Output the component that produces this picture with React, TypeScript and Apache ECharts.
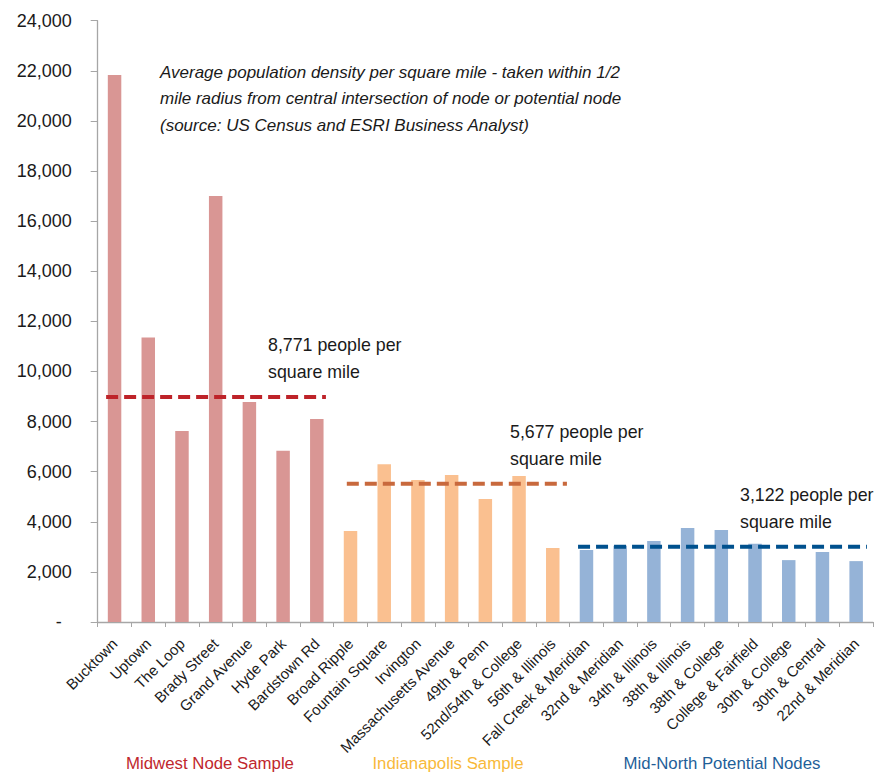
import React, { useEffect, useRef } from "react";
import * as echarts from "echarts";

const midwestNames = ["Bucktown", "Uptown", "The Loop", "Brady Street", "Grand Avenue", "Hyde Park", "Bardstown Rd"];
const midwestValues = [21830, 11360, 7620, 17000, 8780, 6840, 8100];
const indyNames = ["Broad Ripple", "Fountain Square", "Irvington", "Massachusetts Avenue", "49th & Penn", "52nd/54th & College", "56th & Illinois"];
const indyValues = [3630, 6300, 5670, 5870, 4910, 5830, 2950];
const midNorthNames = ["Fall Creek & Meridian", "32nd & Meridian", "34th & Illinois", "38th & Illinois", "38th & College", "College & Fairfield", "30th & College", "30th & Central", "22nd & Meridian"];
const midNorthValues = [2870, 3040, 3230, 3750, 3670, 3120, 2470, 2790, 2430];

const groupTitles = ["Midwest Node Sample", "Indianapolis Sample", "Mid-North Potential Nodes"];
const averageTexts = ["8,771 people per\nsquare mile", "5,677 people per\nsquare mile", "3,122 people per\nsquare mile"];
const averageLevels = [8980, 5520, 3000];
// start / end of each dashed line, in category units (0 = left edge of first category)
const averageSpans = [
  [0.25, 6.77],
  [7.39, 13.92],
  [14.25, 22.82],
];
const noteText =
  "Average population density per square mile - taken within 1/2\nmile radius from central intersection of node or potential node\n(source: US Census and ESRI Business Analyst)";

const yMin = 0;
const yMax = 24000;
const yStep = 2000;

const barColors = ["#D99694", "#FAC090", "#95B3D7"];
const lineColors = ["#BE2329", "#C8693D", "#00518E"];
const titleColors = ["#C0272D", "#F8B93A", "#1F5F99"];

const SANS = "'Liberation Sans', Arial, sans-serif";

export default function App() {
  const ref = useRef<HTMLDivElement>(null);

  useEffect(() => {
    if (!ref.current) return;
    const chart = echarts.init(ref.current, undefined, { renderer: "svg" });

    const groups = [
      { names: midwestNames, values: midwestValues },
      { names: indyNames, values: indyValues },
      { names: midNorthNames, values: midNorthValues },
    ];
    const categories: string[] = [];
    const barData: any[] = [];
    groups.forEach((g, gi) => {
      g.names.forEach((n, i) => {
        categories.push(n);
        barData.push({ value: g.values[i], itemStyle: { color: barColors[gi] } });
      });
    });

    const lineSeries = averageLevels.map((lvl, i) => ({
      type: "line",
      xAxisIndex: 1,
      yAxisIndex: 0,
      symbol: "none",
      silent: true,
      z: 5,
      lineStyle: { color: lineColors[i], width: 4, type: [12, 6] },
      data: [
        [averageSpans[i][0], lvl],
        [averageSpans[i][1], lvl],
      ],
    }));

    const annotationPos = [
      [268, 332],
      [510, 418.5],
      [740, 481.5],
    ];
    const groupTitleX = [210, 448, 722];

    const graphics: any[] = [
      {
        type: "text",
        x: 160,
        y: 59,
        style: {
          text: noteText,
          fontFamily: SANS,
          fontStyle: "italic",
          fontSize: 17,
          lineHeight: 26.5,
          fill: "#1a1a1a",
          textAlign: "left",
          textVerticalAlign: "top",
        },
      },
      ...averageTexts.map((t, i) => ({
        type: "text",
        x: annotationPos[i][0],
        y: annotationPos[i][1],
        style: {
          text: t,
          fontFamily: SANS,
          fontSize: 17.8,
          lineHeight: 26.7,
          fill: "#1a1a1a",
          textAlign: "left",
          textVerticalAlign: "top",
        },
      })),
      ...groupTitles.map((t, i) => ({
        type: "text",
        x: groupTitleX[i],
        y: 763,
        style: {
          text: t,
          fontFamily: SANS,
          fontSize: 16.8,
          fill: titleColors[i],
          textAlign: "center",
          textVerticalAlign: "middle",
        },
      })),
    ];

    chart.setOption({
      animation: false,
      backgroundColor: "#ffffff",
      grid: { left: 97.7, right: 1, top: 20.7, bottom: 153, containLabel: false },
      xAxis: [
        {
          type: "category",
          data: categories,
          boundaryGap: true,
          axisLine: { lineStyle: { color: "#A6A6A6", width: 1.3 } },
          axisTick: { show: true, length: 5, lineStyle: { color: "#A6A6A6" } },
          axisLabel: {
            interval: 0,
            rotate: 45,
            margin: 19,
            fontFamily: SANS,
            fontSize: 15,
            color: "#1a1a1a",
          },
        },
        {
          type: "value",
          min: 0,
          max: categories.length,
          show: false,
        },
      ],
      yAxis: {
        type: "value",
        min: yMin,
        max: yMax,
        interval: yStep,
        splitLine: { show: false },
        axisLine: { show: true, lineStyle: { color: "#A6A6A6", width: 1.3 } },
        axisTick: { show: true, length: 7, lineStyle: { color: "#A6A6A6" } },
        axisLabel: {
          margin: 26,
          fontFamily: SANS,
          fontSize: 18,
          color: "#1a1a1a",
          formatter: (v: number) => (v === 0 ? "{d|-}" : v.toLocaleString("en-US")),
          rich: { d: { padding: [0, 10, 0, 0], fontFamily: SANS, fontSize: 18, color: "#1a1a1a" } },
        },
      },
      series: [
        {
          type: "bar",
          xAxisIndex: 0,
          barWidth: "40%",
          data: barData,
          z: 2,
        },
        ...lineSeries,
      ],
      graphic: graphics,
    });

    return () => chart.dispose();
  }, []);

  return (
    <div
      ref={ref}
      style={{ position: "fixed", left: 0, top: 0, width: 874, height: 775, background: "#fff" }}
    />
  );
}
